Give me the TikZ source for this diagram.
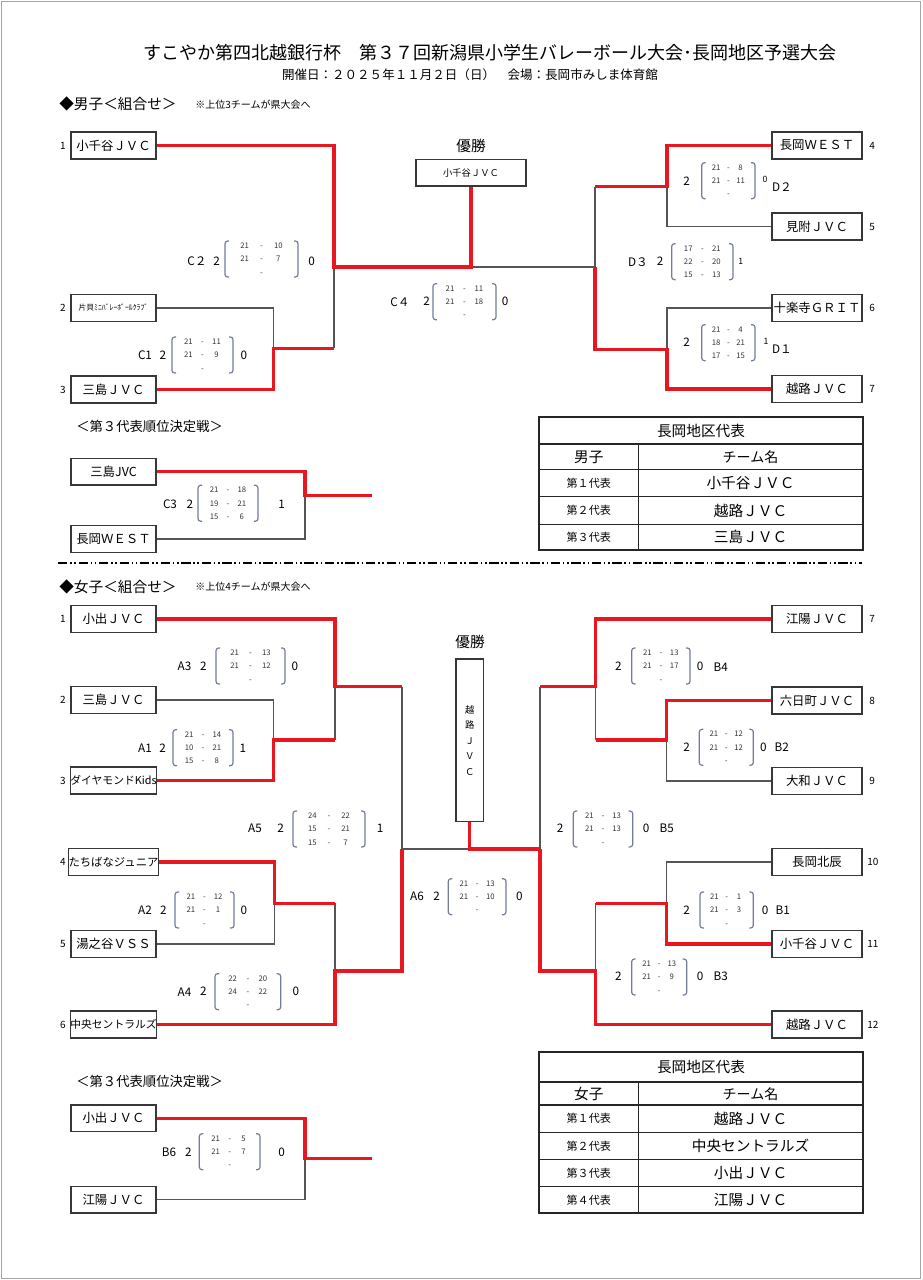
\documentclass[tikz,border=0pt]{standalone}
\usepackage{fontspec}
\setmainfont{Noto Sans CJK JP}
\newcommand\fs[1]{\fontsize{#1}{#1}\selectfont}
\definecolor{wred}{RGB}{232,22,30}
\definecolor{lgray}{RGB}{85,85,85}
\definecolor{bcol}{RGB}{115,125,155}
\definecolor{boxc}{RGB}{55,55,55}
\tikzset{
 team/.style={draw=boxc, line width=1.1pt, minimum width=64pt, minimum height=20pt, inner sep=0pt, font=\fs{9.3pt}},
 teamR/.style={team, minimum width=67.5pt},
 win/.style={draw=wred, line width=2.3pt},
 lose/.style={draw=lgray, line width=1.1pt},
 brk/.style={draw=bcol, line width=0.9pt, rounded corners=2pt},
 sc/.style={font=\fs{5.8pt}, inner sep=0pt, text=black!80, anchor=base},
 lbl/.style={font=\fs{8.8pt}, inner sep=0pt},
 numl/.style={font=\fs{7.5pt}, inner sep=0pt},
 sml/.style={font=\fs{6.5pt}, inner sep=0pt},
 tline/.style={draw=black!85, line width=0.9pt},
}
\newcommand\scorebox[5]{%
 \draw[brk] ({#2+4},{#4-18}) -- (#2,{#4-18}) -- (#2,{#4+18}) -- ({#2+4},{#4+18});
 \draw[brk] ({#3-4},{#4-18}) -- (#3,{#4-18}) -- (#3,{#4+18}) -- ({#3-4},{#4+18});
 \foreach \a/\b [count=\i] in {#5} {
   \node[sc] (#1a\i) at ({#2+0.27*(#3-#2)},{#4+(\i-2)*13.3+2.8}) {\a};
   \node[sc] (#1d\i) at ({0.5*(#2+#3)},{#4+(\i-2)*13.3+2.8}) {-};
   \node[sc] (#1b\i) at ({#2+0.73*(#3-#2)},{#4+(\i-2)*13.3+2.8}) {\b};
 }%
}
\begin{document}
\begin{tikzpicture}[x=0.75pt,y=-0.75pt]
\useasboundingbox (0,0) rectangle (922,1280);
\draw[black!35, line width=0.6pt] (1.5,1.5) rectangle (920.5,1278.5);

% ---------- titles
\node[font=\fs{13.5pt}, inner sep=0pt] (title) at (490,53) {すこやか第四北越銀行杯　第３７回新潟県小学生バレーボール大会･長岡地区予選大会};
\node[font=\fs{9.4pt}, inner sep=0pt] (subtitle) at (470,75) {開催日：２０２５年１１月２日（日）　会場：長岡市みしま体育館};
\node[font=\fs{11pt}, inner sep=0pt, anchor=west] (boyshead) at (59,104) {◆男子＜組合せ＞};
\node[font=\fs{7.5pt}, inner sep=0pt, anchor=west] (boysnote) at (195,105) {※上位3チームが県大会へ};

% ---------- boys teams
\node[team] (b1) at (113.5,145.5) {小千谷ＪＶＣ};
\node[team, font=\fs{5.8pt}] (b2) at (113.5,308) {片貝ﾐﾆﾊﾞﾚｰﾎﾞｰﾙｸﾗﾌﾞ};
\node[team] (b3) at (113.5,389.5) {三島ＪＶＣ};
\node[teamR] (b4) at (817,145.5) {長岡ＷＥＳＴ};
\node[teamR] (b5) at (817,226.5) {見附ＪＶＣ};
\node[teamR] (b6) at (817,308) {十楽寺ＧＲＩＴ};
\node[teamR] (b7) at (817,389) {越路ＪＶＣ};
\node[numl,anchor=east] (nb1) at (66,145.5) {1};
\node[numl,anchor=east] (nb2) at (66,308) {2};
\node[numl,anchor=east] (nb3) at (66,389.5) {3};
\node[numl,anchor=west] (nb4) at (869,145.5) {4};
\node[numl,anchor=west] (nb5) at (869,226.5) {5};
\node[numl,anchor=west] (nb6) at (869,308) {6};
\node[numl,anchor=west] (nb7) at (869,389) {7};

\node[font=\fs{11pt}, inner sep=0pt] (byusho) at (471,146) {優勝};
\node[draw=boxc, line width=1pt, minimum width=82.5pt, minimum height=20pt, inner sep=0pt, font=\fs{7pt}] (bch) at (471,172.7) {小千谷ＪＶＣ};

\coordinate (jC1) at (273.3,348.3);
\coordinate (jC2) at (334,267);
\coordinate (jD3) at (595,267);
\coordinate (jD2) at (667,186.7);
\coordinate (jD1) at (667,349.3);

% boys losers
\draw[lose] (b2.east) -| (jC1);
\draw[lose] (jC1 -| jC2) -- (jC2);
\draw[lose] (jC2 -| bch.south) -- (jD3);
\draw[lose] (b5.west) -| (jD2);
\draw[lose] (jD2 -| jD3) -- (jD3);
\draw[lose] (b6.west) -| (jD1);
% boys winners
\draw[win] (b1.east) -| (jC2) -- (jC2 -| bch.south) -- (bch.south);
\draw[win] (b3.east) -| (jC1) -- (jC1 -| jC2);
\draw[win] (b4.west) -| (jD2) -- (jD2 -| jD3);
\draw[win] (b7.west) -| (jD1) -- (jD1 -| jD3) -- (jD3);

% boys scores
\scorebox{C2}{225}{298}{259}{21/10,21/7,\relax/\relax}
\node[lbl] (lC2) at (197,261) {C２};
\node[lbl] (lC2l) at (216.7,261) {2};
\node[lbl] (lC2r) at (311.7,261) {0};
\scorebox{C1}{172}{233}{355}{21/11,21/9,\relax/\relax}
\node[lbl] (lC1) at (145,355) {C1};
\node[lbl] (lC1l) at (163,355) {2};
\node[lbl] (lC1r) at (244,355) {0};
\scorebox{C4}{433}{496}{301.7}{21/11,21/18,\relax/\relax}
\node[lbl] (lC4) at (400,301.7) {C４};
\node[lbl] (lC4l) at (426.7,301.7) {2};
\node[lbl] (lC4r) at (505,301.7) {0};
\scorebox{D2}{701.7}{755}{180.7}{21/8,21/11,\relax/\relax}
\node[lbl] (lD2l) at (686.7,181.7) {2};
\node[sml] (lD2r) at (765,179) {0};
\node[lbl] (lD2) at (782,187) {D２};
\scorebox{D3}{671.7}{733}{261.7}{17/21,22/20,15/13}
\node[lbl] (lD3) at (638,261.7) {D３};
\node[lbl] (lD3l) at (660,261.7) {2};
\node[sml] (lD3r) at (740.7,261.7) {1};
\scorebox{D1}{701.7}{755}{342.7}{21/4,18/21,17/15}
\node[lbl] (lD1l) at (686.7,342.7) {2};
\node[sml] (lD1r) at (766,341.7) {1};
\node[lbl] (lD1) at (782,349.3) {D１};

% boys 3rd place
\node[font=\fs{10pt}, inner sep=0pt, anchor=west] (b3rd) at (76,426.7) {＜第３代表順位決定戦＞};
\node[team] (t1) at (113.5,471.7) {三島JVC};
\node[team] (t2) at (113.5,539) {長岡ＷＥＳＴ};
\coordinate (jC3) at (305,495.7);
\coordinate (eC3) at (372,495.7);
\draw[lose] (t2.east) -| (jC3);
\draw[win] (t1.east) -| (jC3) -- (eC3);
\scorebox{C3}{198}{258}{503.3}{21/18,19/21,15/6}
\node[lbl] (lC3) at (170,504) {C3};
\node[lbl] (lC3l) at (190,504) {2};
\node[lbl] (lC3r) at (281.7,504) {1};

% boys table
\draw[tline, line width=1.3pt] (539.3,416.7) rectangle (862.7,550);
\draw[tline, line width=1.6pt] (539.3,444.3) -- (862.7,444.3);
\draw[tline] (539.3,469.3) -- (862.7,469.3);
\draw[tline] (539.3,496.7) -- (862.7,496.7);
\draw[tline] (539.3,524.3) -- (862.7,524.3);
\draw[tline] (638.3,444.3) -- (638.3,550);
\node[font=\fs{11pt}, inner sep=0pt] (btt) at (701,430.5) {長岡地区代表};
\node[font=\fs{11pt}, inner sep=0pt] (bth1) at (588.8,457) {男子};
\node[font=\fs{10.5pt}, inner sep=0pt] (bth2) at (750.5,457) {チーム名};
\node[font=\fs{8.3pt}, inner sep=0pt] (btr1) at (588.8,483) {第１代表};
\node[font=\fs{8.3pt}, inner sep=0pt] (btr2) at (588.8,510.5) {第２代表};
\node[font=\fs{8.3pt}, inner sep=0pt] (btr3) at (588.8,537) {第３代表};
\node[font=\fs{11pt}, inner sep=0pt] (btn1) at (750.5,483) {小千谷ＪＶＣ};
\node[font=\fs{11pt}, inner sep=0pt] (btn2) at (750.5,510.5) {越路ＪＶＣ};
\node[font=\fs{11pt}, inner sep=0pt] (btn3) at (750.5,537) {三島ＪＶＣ};

% separator
\draw[black, line width=1.2pt, dash pattern=on 7pt off 2pt on 1.2pt off 2pt on 1.2pt off 2pt] (58,563) -- (862,563);

% ---------- girls
\node[font=\fs{11pt}, inner sep=0pt, anchor=west] (girlshead) at (59,586.7) {◆女子＜組合せ＞};
\node[font=\fs{7.5pt}, inner sep=0pt, anchor=west] (girlsnote) at (195,587) {※上位4チームが県大会へ};

\node[team] (g1) at (113.5,619) {小出ＪＶＣ};
\node[team] (g2) at (113.5,700) {三島ＪＶＣ};
\node[team, font=\fs{8.1pt}] (g3) at (113.5,780.5) {ダイヤモンドKids};
\node[team, font=\fs{8.5pt}] (g4) at (113.5,862) {たちばなジュニア};
\node[team] (g5) at (113.5,944) {湯之谷ＶＳＳ};
\node[team, font=\fs{8.1pt}] (g6) at (113.5,1024.5) {中央セントラルズ};
\node[teamR] (g7) at (817,619) {江陽ＪＶＣ};
\node[teamR] (g8) at (817,700.5) {六日町ＪＶＣ};
\node[teamR] (g9) at (817,781) {大和ＪＶＣ};
\node[teamR] (g10) at (817,862) {長岡北辰};
\node[teamR] (g11) at (817,944) {小千谷ＪＶＣ};
\node[teamR] (g12) at (817,1024.5) {越路ＪＶＣ};
\node[numl,anchor=east] (ng1) at (66,619) {1};
\node[numl,anchor=east] (ng2) at (66,700) {2};
\node[numl,anchor=east] (ng3) at (66,780.5) {3};
\node[numl,anchor=east] (ng4) at (66,862) {4};
\node[numl,anchor=east] (ng5) at (66,944) {5};
\node[numl,anchor=east] (ng6) at (66,1024.5) {6};
\node[numl,anchor=west] (ng7) at (869,619) {7};
\node[numl,anchor=west] (ng8) at (869,700.5) {8};
\node[numl,anchor=west] (ng9) at (869,781) {9};
\node[numl,anchor=west] (ng10) at (867,862) {10};
\node[numl,anchor=west] (ng11) at (867,944) {11};
\node[numl,anchor=west] (ng12) at (867,1024.5) {12};

\node[font=\fs{11pt}, inner sep=0pt] (gyusho) at (470,641.7) {優勝};
\node[draw=boxc, line width=1pt, minimum width=20.5pt, minimum height=122pt, inner sep=0pt, align=center, font=\fontsize{7pt}{11.6pt}\selectfont] (gch) at (469.7,740.3) {越\\路\\Ｊ\\Ｖ\\Ｃ};

\coordinate (jA1) at (273.3,740);
\coordinate (jA3) at (335,686.5);
\coordinate (jA2) at (274.3,903.3);
\coordinate (jA4) at (335,971);
\coordinate (jA5) at (402,849);
\coordinate (jB2) at (666.7,740);
\coordinate (jB4) at (595.5,686.7);
\coordinate (jB1) at (666.7,903.3);
\coordinate (jB3) at (595.5,971);
\coordinate (jB5) at (540,849);

% girls losers
\draw[lose] (g2.east) -| (jA1);
\draw[lose] (jA1 -| jA3) -- (jA3);
\draw[lose] (jA3 -| jA5) -- (jA5);
\draw[lose] (g5.east) -| (jA2);
\draw[lose] (jA2 -| jA4) -- (jA4);
\draw[lose] (jA5) -- (jA5 -| gch.south);
\draw[lose] (jB4 -| jB5) -- (jB5);
\draw[lose] (g9.west) -| (jB2);
\draw[lose] (jB2 -| jB4) -- (jB4);
\draw[lose] (g10.west) -| (jB1);
\draw[lose] (jB1 -| jB3) -- (jB3);
% girls winners
\draw[win] (g1.east) -| (jA3) -- (jA3 -| jA5);
\draw[win] (g3.east) -| (jA1) -- (jA1 -| jA3);
\draw[win] (g4.east) -| (jA2) -- (jA2 -| jA4);
\draw[win] (g6.east) -| (jA4) -- (jA4 -| jA5) -- (jA5);
\draw[win] (gch.south) |- (jB5);
\draw[win] (g7.west) -| (jB4) -- (jB4 -| jB5);
\draw[win] (g8.west) -| (jB2) -- (jB2 -| jB4);
\draw[win] (g11.west) -| (jB1) -- (jB1 -| jB3);
\draw[win] (g12.west) -| (jB3) -- (jB3 -| jB5) -- (jB5);

% girls scores
\scorebox{A3}{216}{285}{666}{21/13,21/12,\relax/\relax}
\node[lbl] (lA3) at (184.5,666.7) {A3};
\node[lbl] (lA3l) at (203.3,666.7) {2};
\node[lbl] (lA3r) at (295,666.7) {0};
\scorebox{A1}{173}{233}{747.7}{21/14,10/21,15/8}
\node[lbl] (lA1) at (145,748) {A1};
\node[lbl] (lA1l) at (162.7,748) {2};
\node[lbl] (lA1r) at (243,748) {1};
\scorebox{A5}{293}{365}{829}{24/22,15/21,15/7}
\node[lbl] (lA5) at (255,828.3) {A5};
\node[lbl] (lA5l) at (280.7,828.3) {2};
\node[lbl] (lA5r) at (380,828.3) {1};
\scorebox{A2}{175}{234}{910}{21/12,21/1,\relax/\relax}
\node[lbl] (lA2) at (145,910) {A2};
\node[lbl] (lA2l) at (163.3,910) {2};
\node[lbl] (lA2r) at (244,910) {0};
\scorebox{A4}{215}{280.7}{991.7}{22/20,24/22,\relax/\relax}
\node[lbl] (lA4) at (184.5,991.7) {A4};
\node[lbl] (lA4l) at (203.3,991.7) {2};
\node[lbl] (lA4r) at (296,991.7) {0};
\scorebox{A6}{448.3}{506}{896.7}{21/13,21/10,\relax/\relax}
\node[lbl] (lA6) at (417,896.7) {A6};
\node[lbl] (lA6l) at (436.7,896.7) {2};
\node[lbl] (lA6r) at (519.3,896.7) {0};
\scorebox{B4}{631.7}{690}{666}{21/13,21/17,\relax/\relax}
\node[lbl] (lB4l) at (618.3,666.7) {2};
\node[lbl] (lB4r) at (700,666.7) {0};
\node[lbl] (lB4) at (720.7,666.7) {B4};
\scorebox{B2}{699.3}{753.3}{747.3}{21/12,21/12,\relax/\relax}
\node[lbl] (lB2l) at (686.7,747.3) {2};
\node[lbl] (lB2r) at (763.3,747.3) {0};
\node[lbl] (lB2) at (781.7,747.3) {B2};
\scorebox{B5}{573.3}{632.7}{829}{21/13,21/13,\relax/\relax}
\node[lbl] (lB5l) at (560,828.3) {2};
\node[lbl] (lB5r) at (646,828.3) {0};
\node[lbl] (lB5) at (666.7,828.3) {B5};
\scorebox{B1}{700}{753.3}{910}{21/1,21/3,\relax/\relax}
\node[lbl] (lB1l) at (686.7,910) {2};
\node[lbl] (lB1r) at (765,910) {0};
\node[lbl] (lB1) at (782.7,910) {B1};
\scorebox{B3}{631.7}{686.7}{977}{21/13,21/9,\relax/\relax}
\node[lbl] (lB3l) at (618.3,976.7) {2};
\node[lbl] (lB3r) at (700,976.7) {0};
\node[lbl] (lB3) at (720.7,976.7) {B3};

% girls 3rd place
\node[font=\fs{10pt}, inner sep=0pt, anchor=west] (g3rd) at (76,1081.7) {＜第３代表順位決定戦＞};
\node[team] (h1) at (113.5,1118.3) {小出ＪＶＣ};
\node[team] (h2) at (113.5,1199.7) {江陽ＪＶＣ};
\coordinate (jB6) at (305,1158.3);
\coordinate (eB6) at (372,1158.3);
\draw[lose] (h2.east) -| (jB6);
\draw[win] (h1.east) -| (jB6) -- (eB6);
\scorebox{B6}{199.3}{260}{1151.7}{21/5,21/7,\relax/\relax}
\node[lbl] (lB6) at (169,1152.7) {B6};
\node[lbl] (lB6l) at (188.3,1152.7) {2};
\node[lbl] (lB6r) at (281.7,1152.7) {0};

% girls table
\draw[tline, line width=1.3pt] (539.3,1051.7) rectangle (862.7,1213.3);
\draw[tline, line width=1.6pt] (539.3,1082.3) -- (862.7,1082.3);
\draw[tline] (539.3,1105) -- (862.7,1105);
\draw[tline] (539.3,1132.3) -- (862.7,1132.3);
\draw[tline] (539.3,1159.3) -- (862.7,1159.3);
\draw[tline] (539.3,1186.7) -- (862.7,1186.7);
\draw[tline] (638.3,1082.3) -- (638.3,1213.3);
\node[font=\fs{11pt}, inner sep=0pt] (gtt) at (701,1067) {長岡地区代表};
\node[font=\fs{11pt}, inner sep=0pt] (gth1) at (588.8,1093.7) {女子};
\node[font=\fs{10.5pt}, inner sep=0pt] (gth2) at (750.5,1093.7) {チーム名};
\node[font=\fs{8.3pt}, inner sep=0pt] (gtr1) at (588.8,1118.7) {第１代表};
\node[font=\fs{8.3pt}, inner sep=0pt] (gtr2) at (588.8,1145.8) {第２代表};
\node[font=\fs{8.3pt}, inner sep=0pt] (gtr3) at (588.8,1173) {第３代表};
\node[font=\fs{8.3pt}, inner sep=0pt] (gtr4) at (588.8,1200) {第４代表};
\node[font=\fs{11pt}, inner sep=0pt] (gtn1) at (750.5,1118.7) {越路ＪＶＣ};
\node[font=\fs{11pt}, inner sep=0pt] (gtn2) at (750.5,1145.8) {中央セントラルズ};
\node[font=\fs{11pt}, inner sep=0pt] (gtn3) at (750.5,1173) {小出ＪＶＣ};
\node[font=\fs{11pt}, inner sep=0pt] (gtn4) at (750.5,1200) {江陽ＪＶＣ};
\end{tikzpicture}
\end{document}
